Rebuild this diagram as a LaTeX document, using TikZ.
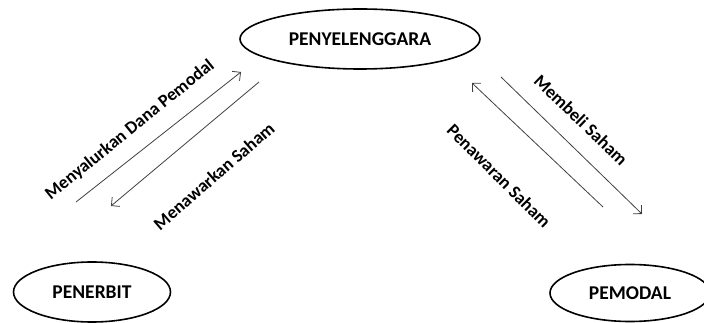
\documentclass[tikz,border=0pt]{standalone}
\usepackage{fontspec}
\setmainfont{Carlito}
\usepackage{tikz}
\usetikzlibrary{shapes,arrows.meta,positioning,calc}

\begin{document}
\begin{tikzpicture}[x=1pt, y=-1pt, >={Straight Barb[length=6pt,width=12pt]}, font=\fontsize{18}{20}\selectfont\bfseries]
\tikzstyle{party}=[draw, ellipse, line width=1.6pt, minimum height=60pt, inner sep=0pt, font=\fontsize{19.5}{22}\selectfont\bfseries]
\tikzstyle{flow}=[->, draw=black!75, line width=0.8pt]
\tikzstyle{note}=[inner sep=0pt, text=black]

\clip (0,0) rectangle (704,323);

% pihak
\node[party, minimum width=240pt] (pny) at (360,39) {PENYELENGGARA};
\node[party, minimum width=157pt] (pnb) at (92,292) {PENERBIT};
\node[party, minimum width=160pt, minimum height=57pt] (pmd) at (630,293) {PEMODAL};

% ujung panah
\coordinate (a1) at (76,202);  \coordinate (b1) at (241,72);
\coordinate (a2) at (259,82);  \coordinate (b2) at (111,206);
\coordinate (a3) at (603,207); \coordinate (b3) at (472,83);
\coordinate (a4) at (501,77);  \coordinate (b4) at (642,214);

\draw[flow] (a1) -- (b1);
\draw[flow] (a2) -- (b2);
\draw[flow] (a3) -- (b3);
\draw[flow] (a4) -- (b4);

% keterangan
\node[note, rotate=39] (l1) at (130,130) {Menyalurkan Dana Pemodal};
\node[note, rotate=41] (l2) at (214,176) {Menawarkan Saham};
\node[note, rotate=-44] (l3) at (581,120) {Membeli Saham};
\node[note, rotate=-45] (l4) at (499,176) {Penawaran Saham};
\end{tikzpicture}
\end{document}
